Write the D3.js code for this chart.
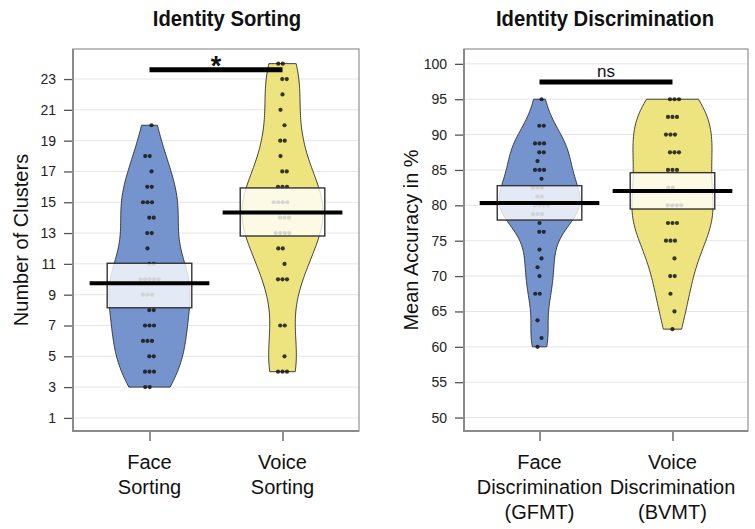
<!DOCTYPE html>
<html><head><meta charset="utf-8">
<script src="https://cdn.jsdelivr.net/npm/d3@7"></script>
<style>
body{margin:0;background:#fff}
svg{display:block;font-family:"Liberation Sans",Arial,Helvetica,sans-serif}
</style>
</head><body>
<svg id="chart" width="755" height="529"></svg>
<script>
// ---------- data ----------
const sortingCategories = [["Face","Sorting"],["Voice","Sorting"]];
const discrimCategories = [["Face","Discrimination","(GFMT)"],["Voice","Discrimination","(BVMT)"]];

const faceSorting = [20,18,18,17,16,16,15,15,15,14,14,13,13,12,11,11,10,10,10,10,10,9,9,9,8,8,7,7,7,6,6,6,5,5,4,4,4,3,3];
const voiceSorting = [24,24,23,23,22,21,20,19,19,18,17,17,16,16,16,15,15,15,15,14,14,14,13,13,13,13,12,12,11,10,10,10,7,7,5,4,4,4];

const faceDiscrim = [95,91.25,91.25,88.75,88.75,88.75,87.5,87.5,86.25,85,85,85,83.75,82.5,82.5,82.5,81.25,81.25,80,80,80,80,78.75,78.75,78.75,77.5,76.25,76.25,73.75,72.5,71.25,70,67.5,67.5,63.75,61.25,60];
const voiceDiscrim = [95,95,95,92.5,92.5,92.5,90,90,90,87.5,87.5,87.5,85,85,85,82.5,82.5,80,80,80,80,77.5,77.5,77.5,75,75,75,72.5,70,70,67.5,65,62.5];

const sortingMeans = [9.74, 14.33];
const sortingBandLow = [8.15, 12.81];
const sortingBandHigh = [11.04, 15.93];
const discrimMeans = [80.33, 82.03];
const discrimBandLow = [77.92, 79.48];
const discrimBandHigh = [82.78, 84.62];

const sortingTicks = [1,3,5,7,9,11,13,15,17,19,21,23];
const discrimTicks = [50,55,60,65,70,75,80,85,90,95,100];

const beanColors = ["#7594cd", "#ede37f"];

// ---------- drawing ----------
const svg = d3.select("#chart");
const TOP = 49, BOTTOM = 431;

function bandwidth(v){
  const s = v.slice().sort(d3.ascending);
  const sd = d3.deviation(s);
  const iqr = d3.quantile(s,0.75) - d3.quantile(s,0.25);
  const lo = Math.min(sd, iqr/1.34);
  return 0.9 * lo * Math.pow(s.length, -0.2);
}
function kde(v, adj){
  const h = bandwidth(v) * adj;
  const mn = d3.min(v), mx = d3.max(v);
  const grid = d3.range(0, 161).map(i => mn + (mx - mn) * i / 160);
  const dens = grid.map(t => ({t, d: d3.sum(v, x => Math.exp(-0.5 * ((t - x) / h) ** 2))}));
  const m = d3.max(dens, d => d.d);
  dens.forEach(d => d.r = d.d / m);
  return dens;
}

function drawPanel(cfg){
  const g = svg.append("g");
  const x = d3.scalePoint().domain(d3.range(cfg.cats.length)).range([cfg.x0, cfg.x1]).padding(cfg.pad);
  const y = d3.scaleLinear().domain(cfg.domain).range([BOTTOM, TOP]);
  const step = x.step();

  // gridlines
  g.append("g").selectAll("line").data(cfg.ticks).join("line")
    .attr("x1", cfg.x0).attr("x2", cfg.x1)
    .attr("y1", d => y(d)).attr("y2", d => y(d))
    .attr("stroke", "#e6e6e6").attr("stroke-width", 1);

  // beans
  cfg.series.forEach((vals, i) => {
    const dens = kde(vals, cfg.adj);
    const cx = x(i), maxW = 0.305 * step;
    const area = d3.area()
      .y(d => y(d.t))
      .x0(d => cx - d.r * maxW)
      .x1(d => cx + d.r * maxW);
    g.append("path").datum(dens).attr("d", area)
      .attr("fill", beanColors[i]).attr("stroke", "#2b2b2b").attr("stroke-width", 0.9);
  });

  // points
  cfg.series.forEach((vals, i) => {
    const groups = d3.group(vals, v => v);
    const pts = [];
    groups.forEach((arr, v) => {
      const n = arr.length;
      arr.forEach((_, k) => pts.push({v, dx: (k - (n - 1) / 2) * 4.5 + ((Math.round(v * 4) % 3) - 1) * 2}));
    });
    g.append("g").selectAll("circle").data(pts).join("circle")
      .attr("cx", d => x(i) + d.dx).attr("cy", d => y(d.v)).attr("r", 2.1)
      .attr("fill", "#151515").attr("fill-opacity", 0.85);
  });

  // inference bands
  cfg.cats.forEach((c, i) => {
    const hw = 0.318 * step;
    g.append("rect")
      .attr("x", x(i) - hw).attr("width", 2 * hw)
      .attr("y", y(cfg.high[i])).attr("height", y(cfg.low[i]) - y(cfg.high[i]))
      .attr("fill", "#ffffff").attr("fill-opacity", 0.8)
      .attr("stroke", "#333").attr("stroke-width", 1.4);
  });
  // mean lines
  cfg.cats.forEach((c, i) => {
    const hw = 0.45 * step;
    g.append("line").attr("x1", x(i) - hw).attr("x2", x(i) + hw)
      .attr("y1", y(cfg.means[i])).attr("y2", y(cfg.means[i]))
      .attr("stroke", "#000").attr("stroke-width", 4);
  });

  // significance bar
  g.append("line").attr("x1", x(0)).attr("x2", x(1))
    .attr("y1", cfg.sigY).attr("y2", cfg.sigY)
    .attr("stroke", "#000").attr("stroke-width", 5);
  g.append("text").attr("x", (x(0) + x(1)) / 2).attr("y", cfg.sigTextY)
    .attr("text-anchor", "middle").attr("font-size", cfg.sigSize).attr("font-weight", cfg.sigWeight)
    .attr("fill", "#111").text(cfg.sigLabel);

  // frame
  g.append("rect").attr("x", cfg.x0).attr("y", TOP).attr("width", cfg.x1 - cfg.x0).attr("height", BOTTOM - TOP)
    .attr("fill", "none").attr("stroke", "#9a9a9a").attr("stroke-width", 1.3);
  g.append("path").attr("d", `M${cfg.x0},${TOP}V${BOTTOM}H${cfg.x1}`)
    .attr("fill", "none").attr("stroke", "#8a8a8a").attr("stroke-width", 2);

  // y axis
  const ya = g.append("g").attr("transform", `translate(${cfg.x0 - 1},0)`)
    .call(d3.axisLeft(y).tickValues(cfg.ticks).tickSize(8).tickPadding(8).tickFormat(d3.format("d")));
  ya.select(".domain").remove();
  ya.selectAll(".tick line").attr("stroke", "#555").attr("stroke-width", 1.3);
  ya.selectAll(".tick text").attr("font-size", 14).attr("fill", "#222").attr("font-family", "'Liberation Sans',Arial,sans-serif");

  // x axis
  const xa = g.append("g").attr("transform", `translate(0,${BOTTOM + 1})`)
    .call(d3.axisBottom(x).tickSize(9).tickFormat(""));
  xa.select(".domain").remove();
  xa.selectAll(".tick line").attr("stroke", "#555").attr("stroke-width", 1.3);
  cfg.cats.forEach((lines, i) => {
    const t = g.append("text").attr("x", x(i)).attr("y", 469)
      .attr("text-anchor", "middle").attr("font-size", 20).attr("fill", "#111");
    lines.forEach((ln, k) => t.append("tspan").attr("x", x(i)).attr("dy", k === 0 ? 0 : 25).text(ln));
  });

  // y label
  g.append("text").attr("transform", `translate(${cfg.ylabX},${(TOP + BOTTOM) / 2}) rotate(-90)`)
    .attr("text-anchor", "middle").attr("font-size", 20).attr("fill", "#111").text(cfg.ylab);

  // title (condensed bold)
  g.append("text").attr("transform", `translate(${cfg.titleX},26) scale(0.9,1)`)
    .attr("text-anchor", "middle").attr("font-size", 22.5).attr("font-weight", "bold").attr("fill", "#111")
    .text(cfg.title);
}

drawPanel({
  title: "Identity Sorting", ylab: "Number of Clusters", ylabX: 28, titleX: 227,
  cats: sortingCategories, series: [faceSorting, voiceSorting], adj: 0.9,
  means: sortingMeans, low: sortingBandLow, high: sortingBandHigh,
  ticks: sortingTicks, domain: [0.15, 24.95],
  x0: 73, x1: 359, pad: 0.575,
  sigY: 69.7, sigTextY: 75, sigLabel: "*", sigSize: 27, sigWeight: "bold"
});
drawPanel({
  title: "Identity Discrimination", ylab: "Mean Accuracy in %", ylabX: 418, titleX: 605,
  cats: discrimCategories, series: [faceDiscrim, voiceDiscrim], adj: 0.9,
  means: discrimMeans, low: discrimBandLow, high: discrimBandHigh,
  ticks: discrimTicks, domain: [48.1, 102.1],
  x0: 464, x1: 748, pad: 0.568,
  sigY: 82, sigTextY: 77, sigLabel: "ns", sigSize: 17, sigWeight: "normal"
});
</script>
</body></html>
